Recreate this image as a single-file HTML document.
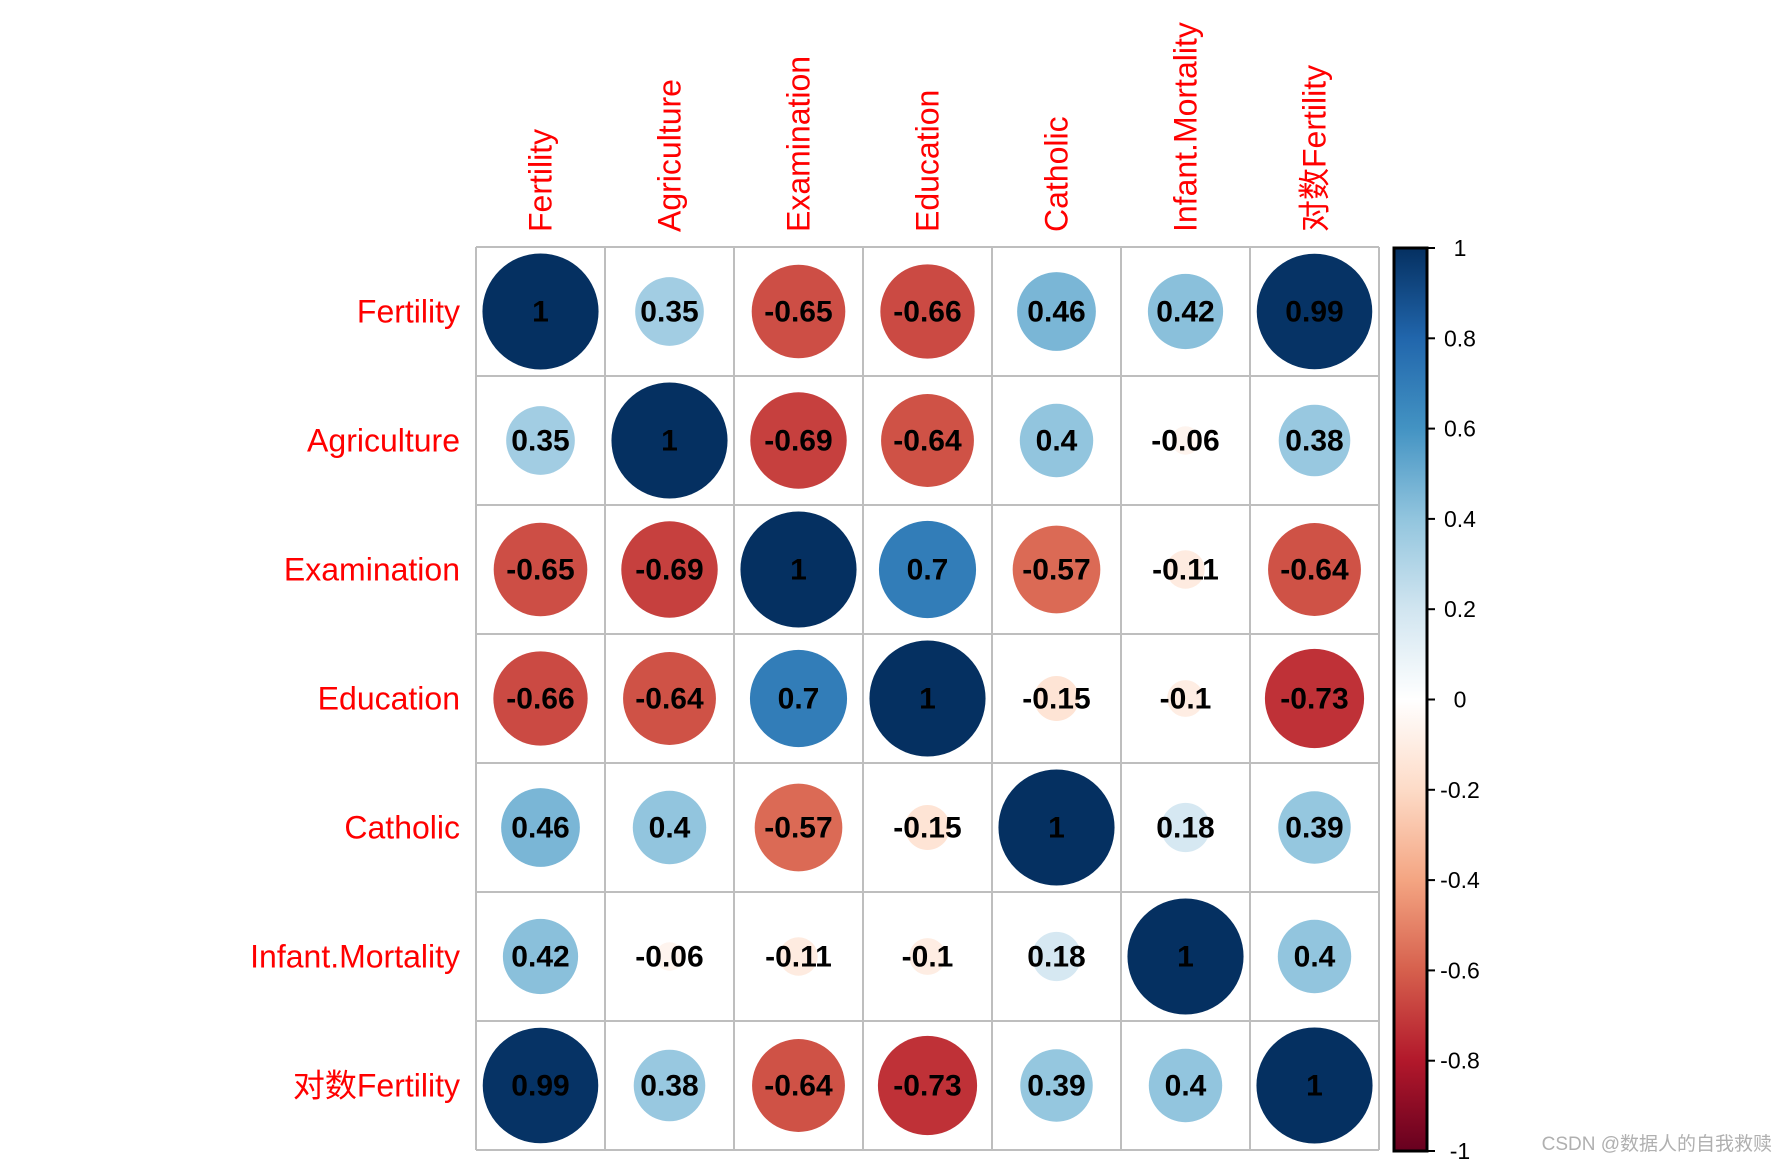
<!DOCTYPE html>
<html><head><meta charset="utf-8"><style>
html,body{margin:0;padding:0;background:#fff}
svg{display:block}
</style></head><body>
<svg id="chart" width="1786" height="1163" viewBox="0 0 1786 1163" xmlns="http://www.w3.org/2000/svg">
<defs>
<linearGradient id="cbar" x1="0" y1="1" x2="0" y2="0">
<stop offset="0" stop-color="#67001F"/><stop offset="0.1" stop-color="#B2182B"/><stop offset="0.2" stop-color="#D6604D"/><stop offset="0.3" stop-color="#F4A582"/><stop offset="0.4" stop-color="#FDDBC7"/><stop offset="0.5" stop-color="#FFFFFF"/><stop offset="0.6" stop-color="#D1E5F0"/><stop offset="0.7" stop-color="#92C5DE"/><stop offset="0.8" stop-color="#4393C3"/><stop offset="0.9" stop-color="#2166AC"/><stop offset="1" stop-color="#053061"/>
</linearGradient>
</defs>
<g id="grid"></g>
<g id="cells"></g>
<g id="labels"></g>
<g id="legend">
<rect x="1394" y="248" width="33" height="903" fill="url(#cbar)" stroke="#000" stroke-width="3"/>
</g>
<text x="1772" y="1150" text-anchor="end" font-family="Liberation Sans, Noto Sans CJK SC, sans-serif" font-size="19" fill="#b0b0b0">CSDN @数据人的自我救赎</text>
</svg>
<script>
const varNames = ["Fertility","Agriculture","Examination","Education","Catholic","Infant.Mortality","对数Fertility"];
const corrRows = [
 [1,0.35,-0.65,-0.66,0.46,0.42,0.99],
 [0.35,1,-0.69,-0.64,0.4,-0.06,0.38],
 [-0.65,-0.69,1,0.7,-0.57,-0.11,-0.64],
 [-0.66,-0.64,0.7,1,-0.15,-0.1,-0.73],
 [0.46,0.4,-0.57,-0.15,1,0.18,0.39],
 [0.42,-0.06,-0.11,-0.1,0.18,1,0.4],
 [0.99,0.38,-0.64,-0.73,0.39,0.4,1]
];
const legendTicks = [1,0.8,0.6,0.4,0.2,0,-0.2,-0.4,-0.6,-0.8,-1];
const NS="http://www.w3.org/2000/svg";
const X0=476, Y0=247, CELL=129, N=varNames.length;
const CB_TOP=248, CB_BOT=1151;
const xPos = j => X0 + CELL*(j+0.5);
const yPos = i => Y0 + CELL*(i+0.5);
const rScale = v => 0.45*CELL*Math.sqrt(Math.abs(v));
const cbY = v => CB_BOT - (v+1)/2*(CB_BOT-CB_TOP);
const stops=[[103,0,31],[178,24,43],[214,96,77],[244,165,130],[253,219,199],[255,255,255],[209,229,240],[146,197,222],[67,147,195],[33,102,172],[5,48,97]];
function color(v){const t=(v+1)/2*10;let k=Math.min(9,Math.floor(t));const f=t-k;const a=stops[k],b=stops[k+1];
 return "rgb("+a.map((c,i)=>Math.round(c+(b[i]-c)*f)).join(",")+")";}
function mk(tag,attrs,parent){const e=document.createElementNS(NS,tag);for(const k in attrs)e.setAttribute(k,attrs[k]);parent.appendChild(e);return e;}
const grid=document.getElementById('grid'),cells=document.getElementById('cells'),labels=document.getElementById('labels'),legend=document.getElementById('legend');
for(let i=0;i<=N;i++){
 const l1=mk('line',{x1:X0+CELL*i,y1:Y0,x2:X0+CELL*i,y2:Y0+CELL*N,stroke:'#bebebe','stroke-width':2},grid);
 
 
 const l2=mk('line',{x1:X0,y1:Y0+CELL*i,x2:X0+CELL*N,y2:Y0+CELL*i,stroke:'#bebebe','stroke-width':2},grid);
 
 
}
corrRows.forEach((row,i)=>row.forEach((v,j)=>{
 const c=mk('circle',{cx:xPos(j),cy:yPos(i),r:rScale(v),fill:color(v)},cells);
 
 
 const t=mk('text',{x:xPos(j),y:yPos(i)+10,'text-anchor':'middle','font-family':'Liberation Sans, sans-serif','font-size':30,'font-weight':'bold',fill:'#000'},cells);
 t.textContent=String(v);
 
 
}));
varNames.forEach((n,i)=>{
 const t=mk('text',{x:460,y:yPos(i)+11,'text-anchor':'end','font-family':'Liberation Sans, Noto Sans CJK SC, sans-serif','font-size':32,fill:'#ff0000'},labels);
 t.textContent=n;
 
 
 const c=mk('text',{x:0,y:0,'text-anchor':'start','font-family':'Liberation Sans, Noto Sans CJK SC, sans-serif','font-size':32,fill:'#ff0000',transform:'translate('+(xPos(i)+11)+',232) rotate(-90)'},labels);
 c.textContent=n;
 
 
});
legendTicks.forEach(v=>{
 const y=cbY(v);
 const l=mk('line',{x1:1427,y1:y,x2:1435,y2:y,stroke:'#000','stroke-width':2},legend);
 
 
 const t=mk('text',{x:1460,y:y+8,'text-anchor':'middle','font-family':'Liberation Sans, sans-serif','font-size':23,fill:'#000'},legend);
 t.textContent=String(v);
 
 
});
</script>
</body></html>
